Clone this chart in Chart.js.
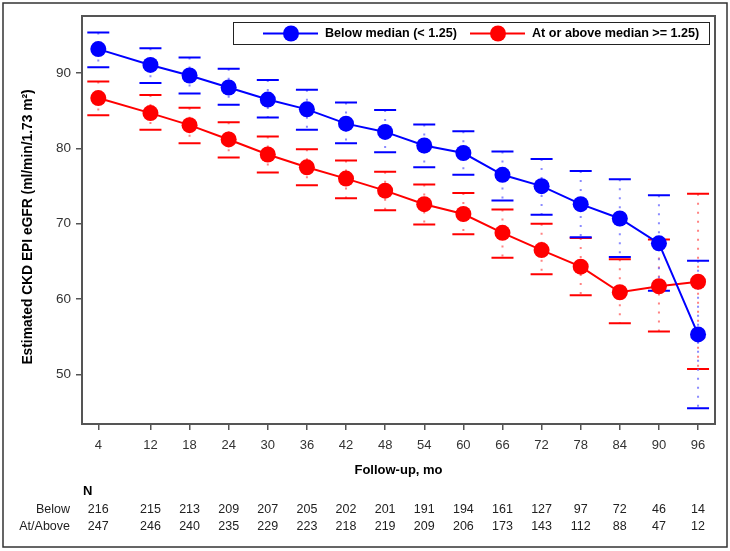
<!DOCTYPE html>
<html>
<head>
<meta charset="utf-8">
<script src="https://cdn.jsdelivr.net/npm/chart.js@4.4.1/dist/chart.umd.min.js"></script>
<style>
  html, body { margin: 0; padding: 0; background: #fff; }
  #wrap { width: 730px; height: 551px; }
</style>
</head>
<body>
<div id="wrap"><canvas id="output"></canvas></div>
<script>
// follow-up months
const months = [4, 12, 18, 24, 30, 36, 42, 48, 54, 60, 66, 72, 78, 84, 90, 96];
const yTicks = [50, 60, 70, 80, 90];

// Below median (< 1.25)
const belowMean  = [93.2, 91.1, 89.7, 88.1, 86.5, 85.2, 83.3, 82.2, 80.4, 79.4, 76.5, 75.0, 72.6, 70.7, 67.4, 55.3];
const belowUpper = [95.4, 93.3, 92.1, 90.6, 89.1, 87.8, 86.1, 85.1, 83.2, 82.3, 79.6, 78.6, 77.0, 75.9, 73.8, 65.1];
const belowLower = [90.8, 88.7, 87.3, 85.8, 84.1, 82.5, 80.7, 79.5, 77.5, 76.5, 73.1, 71.2, 68.2, 65.6, 61.1, 45.5];

// At or above median >= 1.25
const aboveMean  = [86.7, 84.7, 83.1, 81.2, 79.2, 77.5, 76.0, 74.4, 72.6, 71.3, 68.8, 66.5, 64.3, 60.9, 61.7, 62.3];
const aboveUpper = [88.9, 87.1, 85.4, 83.5, 81.6, 79.9, 78.4, 76.9, 75.2, 74.1, 71.9, 70.0, 68.1, 65.3, 67.9, 74.0];
const aboveLower = [84.4, 82.5, 80.7, 78.8, 76.8, 75.1, 73.4, 71.8, 69.9, 68.6, 65.5, 63.3, 60.5, 56.8, 55.7, 50.7];

// numbers at risk
const nBelow = [216, 215, 213, 209, 207, 205, 202, 201, 191, 194, 161, 127, 97, 72, 46, 14];
const nAbove = [247, 246, 240, 235, 229, 223, 218, 219, 209, 206, 173, 143, 112, 88, 47, 12];

const BLUE = '#0000ff';
const RED = '#ff0000';
const FONT = '"Liberation Sans", Arial, sans-serif';

function toPoints(vals) {
    return months.map((m, i) => ({ x: m, y: vals[i] }));
}

// dotted CI lines + caps
const errorBars = {
    id: 'errorBars',
    beforeDatasetsDraw(chart) {
        const ctx = chart.ctx;
        const xs = chart.scales.x, ys = chart.scales.y;
        const groups = [
            { lo: aboveLower, hi: aboveUpper, color: RED, dot: 'rgba(255,90,90,0.75)' },
            { lo: belowLower, hi: belowUpper, color: BLUE, dot: 'rgba(100,100,255,0.75)' }
        ];
        ctx.save();
        groups.forEach(g => {
            months.forEach((m, i) => {
                const x = xs.getPixelForValue(m);
                const y1 = ys.getPixelForValue(g.hi[i]);
                const y2 = ys.getPixelForValue(g.lo[i]);
                ctx.strokeStyle = g.dot;
                ctx.lineWidth = 2;
                ctx.setLineDash([2, 7]);
                ctx.beginPath();
                ctx.moveTo(x, y1);
                ctx.lineTo(x, y2);
                ctx.stroke();
                ctx.setLineDash([]);
                ctx.strokeStyle = g.color;
                ctx.lineWidth = 2;
                ctx.beginPath();
                ctx.moveTo(x - 11, y1); ctx.lineTo(x + 11, y1);
                ctx.moveTo(x - 11, y2); ctx.lineTo(x + 11, y2);
                ctx.stroke();
            });
        });
        ctx.restore();
    }
};

// frame, legend, titles and N table
const decorations = {
    id: 'decorations',
    afterDraw(chart) {
        const ctx = chart.ctx;
        const a = chart.chartArea;
        const xs = chart.scales.x;
        ctx.save();

        // outer border
        ctx.strokeStyle = '#333';
        ctx.lineWidth = 1.5;
        ctx.strokeRect(3, 3, 724, 544);

        // plot frame
        ctx.strokeStyle = '#555';
        ctx.lineWidth = 2;
        ctx.strokeRect(a.left, a.top, a.right - a.left, a.bottom - a.top);

        // legend
        ctx.fillStyle = '#fff';
        ctx.fillRect(233, 22, 476, 22);
        ctx.strokeStyle = '#222';
        ctx.lineWidth = 1;
        ctx.strokeRect(233.5, 22.5, 476, 22);
        const items = [
            { x: 263, color: BLUE, text: 'Below median (< 1.25)' },
            { x: 470, color: RED, text: 'At or above median >= 1.25)' }
        ];
        ctx.font = 'bold 12.6px ' + FONT;
        ctx.textBaseline = 'middle';
        items.forEach(it => {
            ctx.strokeStyle = it.color;
            ctx.lineWidth = 2;
            ctx.beginPath();
            ctx.moveTo(it.x, 33.5); ctx.lineTo(it.x + 55, 33.5);
            ctx.stroke();
            ctx.fillStyle = it.color;
            ctx.beginPath();
            ctx.arc(it.x + 28, 33.5, 8, 0, Math.PI * 2);
            ctx.fill();
            ctx.fillStyle = '#000';
            ctx.textAlign = 'left';
            ctx.fillText(it.text, it.x + 62, 34);
        });

        // axis titles
        ctx.fillStyle = '#000';
        ctx.font = 'bold 13px ' + FONT;
        ctx.textAlign = 'center';
        ctx.fillText('Follow-up, mo', (a.left + a.right) / 2, 470);
        ctx.save();
        ctx.translate(28, 227);
        ctx.rotate(-Math.PI / 2);
        ctx.font = 'bold 13.8px ' + FONT;
        ctx.fillText('Estimated CKD EPI eGFR (ml/min/1.73 m\u00B2)', 0, 0);
        ctx.restore();

        // N table
        ctx.textAlign = 'left';
        ctx.font = 'bold 13px ' + FONT;
        ctx.fillText('N', 83, 491);
        ctx.font = '12.5px ' + FONT;
        ctx.fillStyle = '#222';
        ctx.textAlign = 'right';
        ctx.fillText('Below', 70, 510);
        ctx.fillText('At/Above', 70, 527);
        ctx.textAlign = 'center';
        months.forEach((m, i) => {
            const x = xs.getPixelForValue(m);
            ctx.fillText(String(nBelow[i]), x, 510);
            ctx.fillText(String(nAbove[i]), x, 527);
        });
        ctx.restore();
    }
};

const chart = new Chart(document.getElementById('output').getContext('2d'), {
    type: 'line',
    data: {
        datasets: [
            {
                label: 'Below median (< 1.25)',
                data: toPoints(belowMean),
                borderColor: BLUE,
                backgroundColor: BLUE,
                borderWidth: 2,
                pointRadius: 8,
                pointBorderWidth: 0,
                tension: 0
            },
            {
                label: 'At or above median >= 1.25)',
                data: toPoints(aboveMean),
                borderColor: RED,
                backgroundColor: RED,
                borderWidth: 2,
                pointRadius: 8,
                pointBorderWidth: 0,
                tension: 0
            }
        ]
    },
    options: {
        responsive: true,
        maintainAspectRatio: false,
        animation: false,
        layout: { padding: { left: 0, top: 16, right: 15, bottom: 0 } },
        plugins: {
            legend: { display: false },
            tooltip: { enabled: false }
        },
        scales: {
            x: {
                type: 'linear',
                min: 1.5,
                max: 98.6,
                afterBuildTicks: s => { s.ticks = months.map(v => ({ value: v })); },
                afterFit: s => { s.height = 127; },
                grid: { drawOnChartArea: false, drawTicks: true, tickLength: 6, color: '#555', lineWidth: 1.5 },
                border: { display: false },
                ticks: { color: '#333', font: { family: FONT, size: 13 }, padding: 8, maxRotation: 0, autoSkip: false }
            },
            y: {
                min: 43.4,
                max: 97.6,
                afterBuildTicks: s => { s.ticks = yTicks.map(v => ({ value: v })); },
                afterFit: s => { s.width = 82; },
                grid: { drawOnChartArea: false, drawTicks: true, tickLength: 6, color: '#555', lineWidth: 1.5 },
                border: { display: false },
                ticks: { color: '#333', font: { family: FONT, size: 13.5 }, padding: 5 }
            }
        }
    },
    plugins: [errorBars, decorations]
});
</script>
</body>
</html>
